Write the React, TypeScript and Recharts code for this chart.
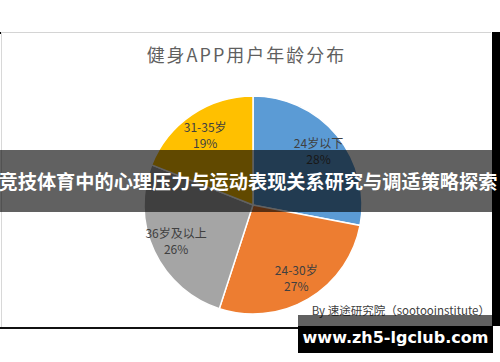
import React from "react";
import { PieChart, Pie, Cell } from "recharts";

const ageGroups = ["24岁以下", "24-30岁", "36岁及以上", "31-35岁"];
const shares = [28, 27, 26, 19];
const sliceColors = ["#5B9BD5", "#ED7D31", "#A5A5A5", "#FFC000"];

const chartTitle = "健身APP用户年龄分布";
const bannerText = "竞技体育中的心理压力与运动表现关系研究与调适策略探索";
const sourceText = "By 速途研究院（sootooinstitute）";
const watermarkText = "www.zh5-lgclub.com";

const data = ageGroups.map((name, i) => ({ name, value: shares[i] }));

const FONT = '"Noto Sans CJK SC", "Noto Sans", sans-serif';
const RAD = Math.PI / 180;

function SliceLabel(props: any) {
  const { cx, cy, midAngle, outerRadius, name, value } = props;
  const r = outerRadius * 0.78;
  const x = cx + r * Math.cos(-midAngle * RAD);
  const y = cy + r * Math.sin(-midAngle * RAD);
  return (
    <text x={x} y={y} textAnchor="middle" fill="#404040" fontSize={12} fontFamily={FONT}>
      <tspan x={x} dy={-3}>{name}</tspan>
      <tspan x={x} dy={16}>{value}%</tspan>
    </text>
  );
}

export default function App() {
  return (
    <div style={{ position: "absolute", left: 0, top: 0, width: 500, height: 362, background: "#fff", overflow: "hidden", fontFamily: FONT }}>
      {/* frame of the original screenshot */}
      <div style={{ position: "absolute", left: 0, top: 32, width: 491, height: 1, background: "#d4d4d4" }} />
      <div style={{ position: "absolute", left: 1, top: 32, width: 1, height: 296, background: "#d8d8d8" }} />
      <div style={{ position: "absolute", left: 0, top: 32, width: 1, height: 2, background: "#000" }} />
      <div style={{ position: "absolute", left: 0, top: 327, width: 300, height: 1.5, background: "#111" }} />
      <div style={{ position: "absolute", left: 492, top: 32, width: 8, height: 294, background: "#000" }} />

      <div style={{ position: "absolute", left: 0, top: 41, width: 493, textAlign: "center", fontSize: 18, color: "#5f5f5f", letterSpacing: 2 }}>
        {chartTitle}
      </div>

      <PieChart width={500} height={362} style={{ position: "absolute", left: 0, top: 0 }}>
        <Pie
          data={data}
          dataKey="value"
          nameKey="name"
          cx={248}
          cy={200}
          outerRadius={109}
          startAngle={90}
          endAngle={-270}
          stroke="#ffffff"
          strokeWidth={1.5}
          label={SliceLabel}
          labelLine={false}
          isAnimationActive={false}
        >
          {data.map((d, i) => (
            <Cell key={d.name} fill={sliceColors[i]} />
          ))}
        </Pie>
      </PieChart>

      <div style={{ position: "absolute", left: 0, top: 302, width: 490, textAlign: "right", fontSize: 11.5, color: "#404040", whiteSpace: "nowrap" }}>
        {sourceText}
      </div>

      {/* overlay banner */}
      <div style={{ position: "absolute", left: 0, top: 150, width: 500, height: 62, background: "rgba(0,0,0,0.62)" }} />
      <div style={{ position: "absolute", left: -10, top: 150, width: 516, height: 62, lineHeight: "62px", textAlign: "center", color: "#fff", fontSize: 19.2, fontWeight: 700, whiteSpace: "nowrap" }}>
        {bannerText}
      </div>

      {/* watermark */}
      <div style={{ position: "absolute", left: 298, top: 315, width: 195, height: 11, background: "rgba(0,0,0,0.62)" }} />
      <div style={{ position: "absolute", left: 298, top: 326, width: 195, height: 27, background: "#000" }} />
      <div style={{ position: "absolute", left: 298, top: 323, width: 195, height: 30, lineHeight: "30px", textAlign: "center", color: "#fff", fontSize: 16, fontWeight: 700, fontFamily: '"DejaVu Sans", sans-serif', whiteSpace: "nowrap" }}>
        {watermarkText}
      </div>
    </div>
  );
}
